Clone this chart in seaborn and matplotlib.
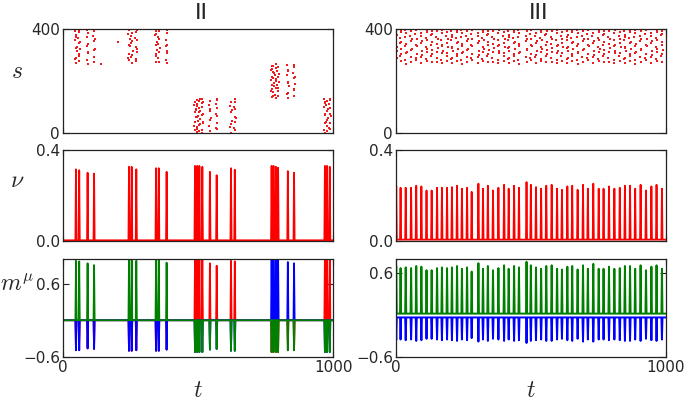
import numpy as np
import pandas as pd
import matplotlib
matplotlib.use("Agg")
import matplotlib.pyplot as plt
import seaborn as sns

# ---- regime II (left column) ----
# spike times, population rate peaks, retrieved pattern (0 red, 1 blue, 2 green)
left_t = [49, 61, 92, 116, 245, 255, 272, 345, 355, 384,
          489, 497, 505, 516, 544, 569, 622, 636,
          772, 779, 788, 796, 832, 855, 969, 977, 987]
left_nu = [0.315, 0.311, 0.300, 0.296, 0.326, 0.326, 0.315, 0.320, 0.320, 0.304,
           0.330, 0.330, 0.330, 0.326, 0.304, 0.289, 0.320, 0.313,
           0.330, 0.330, 0.326, 0.322, 0.307, 0.300, 0.330, 0.330, 0.326]
left_pat = [2, 2, 2, 2, 2, 2, 2, 2, 2, 2,
            0, 0, 0, 0, 0, 0, 0, 0,
            1, 1, 1, 1, 1, 1, 0, 0, 0]
left_m_up = [0.97, 0.96, 0.93, 0.90, 0.99, 0.99, 0.97, 0.98, 0.98, 0.94,
             1.05, 1.05, 1.05, 1.05, 0.93, 0.89, 0.97, 0.96,
             1.05, 1.05, 1.05, 1.05, 0.95, 0.93, 1.05, 1.05, 1.05]
left_m_down = [-0.49, -0.49, -0.46, -0.47, -0.50, -0.50, -0.49, -0.50, -0.50, -0.48,
               -0.52, -0.52, -0.52, -0.52, -0.48, -0.47, -0.50, -0.50,
               -0.52, -0.52, -0.52, -0.52, -0.49, -0.49, -0.52, -0.52, -0.52]
left_stray_t = [142, 206]
left_stray_s = [267, 351]

# ---- regime III (right column) ----
right_t = [2, 18, 37, 57, 76, 95, 114, 133, 153, 171,
           190, 208, 227, 245, 264, 281, 306, 323, 341, 360,
           380, 401, 418, 438, 456, 484, 500, 519, 538, 557,
           577, 597, 615, 635, 653, 673, 693, 711, 731, 751,
           769, 789, 809, 829, 848, 867, 886, 906, 926, 946,
           965, 985]
right_nu = [0.243, 0.234, 0.234, 0.234, 0.243, 0.240, 0.222, 0.222, 0.234, 0.234,
            0.234, 0.237, 0.243, 0.230, 0.234, 0.216, 0.252, 0.230, 0.243, 0.222,
            0.234, 0.247, 0.230, 0.243, 0.234, 0.259, 0.247, 0.237, 0.230, 0.243,
            0.247, 0.230, 0.225, 0.240, 0.243, 0.225, 0.247, 0.230, 0.252, 0.230,
            0.230, 0.240, 0.230, 0.234, 0.243, 0.243, 0.230, 0.247, 0.222, 0.240,
            0.247, 0.230]
right_m_up = [0.70, 0.67, 0.68, 0.67, 0.70, 0.69, 0.64, 0.64, 0.67, 0.68,
              0.67, 0.68, 0.70, 0.66, 0.68, 0.62, 0.74, 0.66, 0.70, 0.64,
              0.67, 0.71, 0.66, 0.70, 0.68, 0.76, 0.71, 0.68, 0.66, 0.70,
              0.71, 0.66, 0.65, 0.69, 0.70, 0.65, 0.71, 0.66, 0.73, 0.66,
              0.66, 0.69, 0.66, 0.67, 0.70, 0.70, 0.66, 0.71, 0.64, 0.69,
              0.71, 0.66]
right_m_down = [-0.36, -0.35, -0.36, -0.35, -0.37, -0.36, -0.34, -0.34, -0.35, -0.36,
                -0.35, -0.36, -0.37, -0.35, -0.36, -0.33, -0.38, -0.35, -0.37, -0.34,
                -0.35, -0.37, -0.35, -0.37, -0.36, -0.40, -0.37, -0.36, -0.35, -0.37,
                -0.37, -0.35, -0.34, -0.36, -0.37, -0.34, -0.38, -0.35, -0.38, -0.35,
                -0.35, -0.36, -0.35, -0.36, -0.37, -0.37, -0.35, -0.37, -0.34, -0.36,
                -0.37, -0.35]
right_base = {"green": 0.02, "blue": -0.035}

# neuron offsets inside a pattern block (0..132), reused column by column
nrn_sets = [
    [3, 17, 22, 48, 61, 64, 90, 104, 111, 127],
    [9, 31, 36, 55, 79, 83, 98, 122, 130],
    [0, 12, 40, 44, 69, 75, 101, 116, 119, 131],
    [6, 27, 51, 58, 86, 93, 108, 125],
    [14, 20, 38, 66, 72, 95, 113, 128, 132],
    [1, 25, 33, 47, 80, 88, 105, 118],
    [10, 18, 43, 57, 62, 91, 99, 121, 129],
    [5, 29, 35, 53, 70, 84, 110, 114, 126],
    [8, 23, 46, 59, 77, 96, 103, 124],
    [2, 15, 39, 50, 67, 73, 89, 117, 131],
    [11, 28, 42, 63, 81, 94, 107, 120],
]
dot_jitter = [0, -2, 1, 3, -1, 2, -3, 0, 1, -2]
block_start = [0, 133, 267]
pat_colors = ["red", "blue", "green"]
mpl_colors = {"red": "#ff0000", "blue": "#0000ff", "green": "#008000"}

sns.set_style("white")
plt.rcParams.update({
    "font.family": ["DejaVu Sans"],
    "mathtext.fontset": "cm",
    "axes.edgecolor": "#222222", "axes.linewidth": 0.9,
    "axes.unicode_minus": True,
})


def raster_frame(times, pats):
    rows = []
    for i, (t, p) in enumerate(zip(times, pats)):
        for k, o in enumerate(nrn_sets[i % len(nrn_sets)]):
            rows.append((t + dot_jitter[k], block_start[p] + o))
    return pd.DataFrame(rows, columns=["t", "s"])


def trace(times, peaks, base, w=2):
    xs, ys = [0], [base]
    for t, h in zip(times, peaks):
        xs += [t - w, t, t + w]
        ys += [base, h, base]
    xs.append(1000)
    ys.append(base)
    return pd.DataFrame({"t": xs, "v": ys})


fig = plt.figure(figsize=(6.85, 4.01), dpi=100)
W, H = 685, 401


def add_ax(x0, y0, x1, y1):
    return fig.add_axes([x0 / W, 1 - y1 / H, (x1 - x0) / W, (y1 - y0) / H])


cols = [(62.7, 333.3), (395.7, 666.0)]
rows_px = [(29, 133), (150, 241), (259, 357)]
axes = [[add_ax(c[0], r[0], c[1], r[1]) for c in cols] for r in rows_px]

# row 1: raster
ldf = raster_frame(left_t, left_pat)
ldf = pd.concat([ldf, pd.DataFrame({"t": left_stray_t, "s": left_stray_s})])
rdf = raster_frame(right_t, [2] * len(right_t))
for ax, df in zip(axes[0], [ldf, rdf]):
    sns.scatterplot(data=df, x="t", y="s", ax=ax, color="#ee1c1c", s=1.6,
                    marker="s", linewidth=0, legend=False)
    ax.set_ylim(0, 400)
    ax.set_yticks([0, 400])

# row 2: rate
sns.lineplot(data=trace(left_t, left_nu, 0.003), x="t", y="v", ax=axes[1][0],
             color="#ff0000", lw=1.3, sort=False, estimator=None)
sns.lineplot(data=trace(right_t, right_nu, 0.006), x="t", y="v", ax=axes[1][1],
             color="#ff0000", lw=1.3, sort=False, estimator=None)
for ax in axes[1]:
    ax.set_ylim(0, 0.4)
    ax.set_yticks([0, 0.4])
    ax.set_yticklabels(["0.0", "0.4"])

# row 3: overlaps
axl = axes[2][0]
for ci, cname in enumerate(pat_colors):
    vals = [u if p == ci else d for p, u, d in zip(left_pat, left_m_up, left_m_down)]
    sns.lineplot(data=trace(left_t, vals, 0.0), x="t", y="v", ax=axl,
                 color=mpl_colors[cname], lw=1.3, sort=False, estimator=None)
axl.set_ylim(-0.6, 1.0)

axr = axes[2][1]
sns.lineplot(data=trace(right_t, right_m_down, right_base["blue"]), x="t", y="v",
             ax=axr, color=mpl_colors["blue"], lw=1.4, sort=False, estimator=None)
sns.lineplot(data=trace(right_t, right_m_up, right_base["green"]), x="t", y="v",
             ax=axr, color=mpl_colors["green"], lw=1.4, sort=False, estimator=None)
axr.set_ylim(-0.6, 0.8)
for ax in axes[2]:
    ax.set_yticks([-0.6, 0.6])
    ax.set_yticklabels(["\u22120.6", "0.6"])

for r, row in enumerate(axes):
    for ax in row:
        ax.set_xlim(0, 1000)
        ax.set_xticks([0, 1000])
        ax.set_xlabel("")
        ax.set_ylabel("")
        ax.tick_params(which="both", direction="in", top=True, right=True,
                       bottom=True, left=True, length=4, width=0.8, pad=2,
                       labelsize=11, color="#222222")
        if r < 2:
            ax.set_xticklabels([])
        else:
            ax.set_xticklabels(["0", "1000"])

fig.text(201 / W, 1 - 13 / H, "II", fontsize=16, ha="center", va="center")
fig.text(539 / W, 1 - 13 / H, "III", fontsize=16, ha="center", va="center")
fig.text(17 / W, 1 - 71 / H, r"$s$", fontsize=17, ha="center", va="center")
fig.text(17 / W, 1 - 180 / H, r"$\nu$", fontsize=17, ha="center", va="center")
fig.text(17 / W, 1 - 284 / H, r"$m^{\mu}$", fontsize=17, ha="center", va="center")
fig.text(198 / W, 1 - 390 / H, r"$t$", fontsize=17, ha="center", va="center")
fig.text(531 / W, 1 - 390 / H, r"$t$", fontsize=17, ha="center", va="center")

fig.savefig("out.png", dpi=100)
